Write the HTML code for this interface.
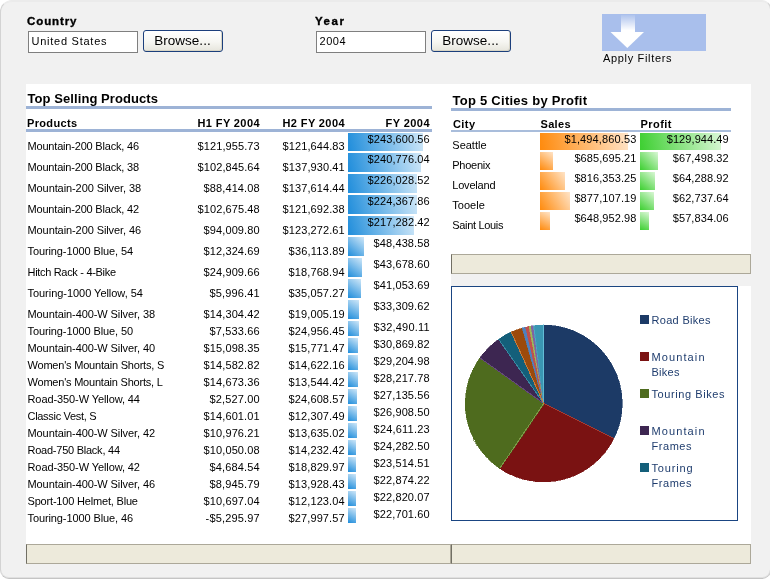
<!DOCTYPE html>
<html><head><meta charset="utf-8"><title>Dashboard</title>
<style>
html,body{margin:0;padding:0;background:#fff;}
body{width:770px;height:579px;position:relative;overflow:hidden;font-family:"Liberation Sans",sans-serif;}
#root{position:absolute;left:0;top:0;width:770px;height:579px;overflow:hidden;will-change:transform;}
.hv{-webkit-text-stroke:0.35px #000;}
.t{position:absolute;white-space:pre;line-height:16px;color:#000;}
</style></head><body><div id="root">
<div style="position:absolute;left:0px;top:0px;width:769px;height:577px;border:1px solid;border-color:#ebebeb #d0d0d0 #c4c4c4 #d3d3d3;border-radius:12px 9px 9px 9px;background:#f1f1f1;box-shadow:inset 0 1px 0 #ebebeb, inset 0 -1px 0 #e0e0e0;"></div>
<span class="t hv" style="top:13.02px;font-size:11.5px;left:27.00px;font-weight:bold;letter-spacing:0.903px;">Country</span>
<span class="t hv" style="top:13.02px;font-size:11.5px;left:315.00px;font-weight:bold;letter-spacing:1.566px;">Year</span>
<div style="position:absolute;left:28px;top:31px;width:108px;height:20px;border:1px solid #7f7f7f;background:#fff;"></div>
<span class="t " style="top:32.79px;font-size:11px;left:31.50px;letter-spacing:0.747px;">United States</span>
<div style="position:absolute;left:316px;top:31px;width:108px;height:20px;border:1px solid #7f7f7f;background:#fff;"></div>
<span class="t " style="top:32.79px;font-size:11px;left:319.50px;letter-spacing:0.510px;">2004</span>
<div style="position:absolute;left:143px;top:30px;width:78px;height:20px;border:1px solid #1c3f7c;border-radius:3px;background:linear-gradient(#ffffff 0%,#f6f6f2 55%,#e6e5dc 100%);box-shadow:inset -1px -1px 0 #d8d5c6;"></div>
<span class="t " style="top:32.72px;font-size:13.5px;left:154.37px;">Browse...</span>
<div style="position:absolute;left:431px;top:30px;width:78px;height:20px;border:1px solid #1c3f7c;border-radius:3px;background:linear-gradient(#ffffff 0%,#f6f6f2 55%,#e6e5dc 100%);box-shadow:inset -1px -1px 0 #d8d5c6;"></div>
<span class="t " style="top:32.72px;font-size:13.5px;left:442.37px;">Browse...</span>
<div style="position:absolute;left:602px;top:14px;width:104px;height:37px;background:#a9bfec;"></div>
<svg style="position:absolute;left:602px;top:14px" width="104" height="37" viewBox="602 14 104 37">
<defs><linearGradient id="ag" x1="0" y1="0" x2="0" y2="1"><stop offset="0" stop-color="#fff" stop-opacity="0.08"/><stop offset="0.88" stop-color="#fff" stop-opacity="1"/></linearGradient></defs>
<rect x="621" y="15" width="14" height="17.5" fill="url(#ag)"/>
<path d="M610.5 32 L644 32 L627.3 48 Z" fill="#fff"/>
</svg>
<span class="t " style="top:50.19px;font-size:11px;left:603.00px;letter-spacing:0.665px;">Apply Filters</span>
<div style="position:absolute;left:26px;top:84px;width:725px;height:460px;background:#fff;"></div>
<span class="t " style="top:90.50px;font-size:13px;left:27.50px;font-weight:bold;letter-spacing:0.077px;">Top Selling Products</span>
<div style="position:absolute;left:26px;top:106px;width:406px;height:3px;background:#9db3d6;"></div>
<span class="t " style="top:115.19px;font-size:11px;left:27.00px;font-weight:bold;letter-spacing:0.332px;">Products</span>
<span class="t " style="top:115.19px;font-size:11px;left:197.50px;font-weight:bold;letter-spacing:0.389px;">H1 FY 2004</span>
<span class="t " style="top:115.19px;font-size:11px;left:282.50px;font-weight:bold;letter-spacing:0.389px;">H2 FY 2004</span>
<span class="t " style="top:115.19px;font-size:11px;left:385.50px;font-weight:bold;letter-spacing:0.436px;">FY 2004</span>
<div style="position:absolute;left:26px;top:129px;width:406px;height:3px;background:#9db3d6;"></div>
<div style="position:absolute;left:348px;top:133px;width:75px;height:18px;background:linear-gradient(76.5deg,#1f8ddb 0%,#cfe7f8 100%);"></div>
<span class="t " style="top:138.19px;font-size:11px;left:27.50px;letter-spacing:-0.189px;">Mountain-200 Black, 46</span>
<span class="t " style="top:138.19px;font-size:11px;left:197.60px;letter-spacing:0.083px;">$121,955.73</span>
<span class="t " style="top:138.19px;font-size:11px;left:282.60px;letter-spacing:0.083px;">$121,644.83</span>
<span class="t " style="top:131.19px;font-size:11px;left:367.60px;letter-spacing:0.083px;">$243,600.56</span>
<div style="position:absolute;left:348px;top:153px;width:73px;height:19px;background:linear-gradient(75.4deg,#1f8ddb 0%,#cfe7f8 100%);"></div>
<span class="t " style="top:159.19px;font-size:11px;left:27.50px;letter-spacing:-0.189px;">Mountain-200 Black, 38</span>
<span class="t " style="top:159.19px;font-size:11px;left:197.60px;letter-spacing:0.083px;">$102,845.64</span>
<span class="t " style="top:159.19px;font-size:11px;left:282.60px;letter-spacing:0.083px;">$137,930.41</span>
<span class="t " style="top:151.19px;font-size:11px;left:367.60px;letter-spacing:0.083px;">$240,776.04</span>
<div style="position:absolute;left:348px;top:174px;width:69px;height:19px;background:linear-gradient(74.6deg,#1f8ddb 0%,#cfe7f8 100%);"></div>
<span class="t " style="top:180.19px;font-size:11px;left:27.50px;letter-spacing:-0.090px;">Mountain-200 Silver, 38</span>
<span class="t " style="top:180.19px;font-size:11px;left:203.60px;letter-spacing:0.105px;">$88,414.08</span>
<span class="t " style="top:180.19px;font-size:11px;left:282.60px;letter-spacing:0.083px;">$137,614.44</span>
<span class="t " style="top:172.19px;font-size:11px;left:367.60px;letter-spacing:0.083px;">$226,028.52</span>
<div style="position:absolute;left:348px;top:195px;width:69px;height:19px;background:linear-gradient(74.6deg,#1f8ddb 0%,#cfe7f8 100%);"></div>
<span class="t " style="top:201.19px;font-size:11px;left:27.50px;letter-spacing:-0.189px;">Mountain-200 Black, 42</span>
<span class="t " style="top:201.19px;font-size:11px;left:197.60px;letter-spacing:0.083px;">$102,675.48</span>
<span class="t " style="top:201.19px;font-size:11px;left:282.60px;letter-spacing:0.083px;">$121,692.38</span>
<span class="t " style="top:193.19px;font-size:11px;left:367.60px;letter-spacing:0.083px;">$224,367.86</span>
<div style="position:absolute;left:348px;top:216px;width:66px;height:19px;background:linear-gradient(73.9deg,#1f8ddb 0%,#cfe7f8 100%);"></div>
<span class="t " style="top:222.19px;font-size:11px;left:27.50px;letter-spacing:-0.090px;">Mountain-200 Silver, 46</span>
<span class="t " style="top:222.19px;font-size:11px;left:203.60px;letter-spacing:0.105px;">$94,009.80</span>
<span class="t " style="top:222.19px;font-size:11px;left:282.60px;letter-spacing:0.083px;">$123,272.61</span>
<span class="t " style="top:214.19px;font-size:11px;left:367.60px;letter-spacing:0.083px;">$217,282.42</span>
<div style="position:absolute;left:348px;top:237px;width:16px;height:19px;background:linear-gradient(40.1deg,#1f8ddb 0%,#cfe7f8 100%);"></div>
<span class="t " style="top:243.19px;font-size:11px;left:27.50px;letter-spacing:-0.102px;">Touring-1000 Blue, 54</span>
<span class="t " style="top:243.19px;font-size:11px;left:203.60px;letter-spacing:0.105px;">$12,324.69</span>
<span class="t " style="top:243.19px;font-size:11px;left:288.60px;letter-spacing:0.196px;">$36,113.89</span>
<span class="t " style="top:235.19px;font-size:11px;left:373.60px;letter-spacing:0.105px;">$48,438.58</span>
<div style="position:absolute;left:348px;top:258px;width:14px;height:19px;background:linear-gradient(36.4deg,#1f8ddb 0%,#cfe7f8 100%);"></div>
<span class="t " style="top:264.19px;font-size:11px;left:27.50px;letter-spacing:-0.313px;">Hitch Rack - 4-Bike</span>
<span class="t " style="top:264.19px;font-size:11px;left:203.60px;letter-spacing:0.105px;">$24,909.66</span>
<span class="t " style="top:264.19px;font-size:11px;left:288.60px;letter-spacing:0.105px;">$18,768.94</span>
<span class="t " style="top:256.19px;font-size:11px;left:373.60px;letter-spacing:0.105px;">$43,678.60</span>
<div style="position:absolute;left:348px;top:279px;width:13px;height:19px;background:linear-gradient(34.4deg,#1f8ddb 0%,#cfe7f8 100%);"></div>
<span class="t " style="top:285.19px;font-size:11px;left:27.50px;letter-spacing:-0.037px;">Touring-1000 Yellow, 54</span>
<span class="t " style="top:285.19px;font-size:11px;left:209.60px;letter-spacing:0.133px;">$5,996.41</span>
<span class="t " style="top:285.19px;font-size:11px;left:288.60px;letter-spacing:0.105px;">$35,057.27</span>
<span class="t " style="top:277.19px;font-size:11px;left:373.60px;letter-spacing:0.105px;">$41,053.69</span>
<div style="position:absolute;left:348px;top:300px;width:11px;height:19px;background:linear-gradient(30.1deg,#1f8ddb 0%,#cfe7f8 100%);"></div>
<span class="t " style="top:306.19px;font-size:11px;left:27.50px;letter-spacing:-0.084px;">Mountain-400-W Silver, 38</span>
<span class="t " style="top:306.19px;font-size:11px;left:203.60px;letter-spacing:0.105px;">$14,304.42</span>
<span class="t " style="top:306.19px;font-size:11px;left:288.60px;letter-spacing:0.105px;">$19,005.19</span>
<span class="t " style="top:298.19px;font-size:11px;left:373.60px;letter-spacing:0.105px;">$33,309.62</span>
<div style="position:absolute;left:348px;top:321px;width:11px;height:15px;background:linear-gradient(36.3deg,#1f8ddb 0%,#cfe7f8 100%);"></div>
<span class="t " style="top:323.19px;font-size:11px;left:27.50px;letter-spacing:-0.102px;">Touring-1000 Blue, 50</span>
<span class="t " style="top:323.19px;font-size:11px;left:209.60px;letter-spacing:0.133px;">$7,533.66</span>
<span class="t " style="top:323.19px;font-size:11px;left:288.60px;letter-spacing:0.105px;">$24,956.45</span>
<span class="t " style="top:319.19px;font-size:11px;left:373.60px;letter-spacing:0.196px;">$32,490.11</span>
<div style="position:absolute;left:348px;top:338px;width:10px;height:15px;background:linear-gradient(33.7deg,#1f8ddb 0%,#cfe7f8 100%);"></div>
<span class="t " style="top:340.19px;font-size:11px;left:27.50px;letter-spacing:-0.084px;">Mountain-400-W Silver, 40</span>
<span class="t " style="top:340.19px;font-size:11px;left:203.60px;letter-spacing:0.105px;">$15,098.35</span>
<span class="t " style="top:340.19px;font-size:11px;left:288.60px;letter-spacing:0.105px;">$15,771.47</span>
<span class="t " style="top:336.19px;font-size:11px;left:373.60px;letter-spacing:0.105px;">$30,869.82</span>
<div style="position:absolute;left:348px;top:355px;width:10px;height:15px;background:linear-gradient(33.7deg,#1f8ddb 0%,#cfe7f8 100%);"></div>
<span class="t " style="top:357.19px;font-size:11px;left:27.50px;letter-spacing:-0.204px;">Women's Mountain Shorts, S</span>
<span class="t " style="top:357.19px;font-size:11px;left:203.60px;letter-spacing:0.105px;">$14,582.82</span>
<span class="t " style="top:357.19px;font-size:11px;left:288.60px;letter-spacing:0.105px;">$14,622.16</span>
<span class="t " style="top:353.19px;font-size:11px;left:373.60px;letter-spacing:0.105px;">$29,204.98</span>
<div style="position:absolute;left:348px;top:372px;width:10px;height:15px;background:linear-gradient(33.7deg,#1f8ddb 0%,#cfe7f8 100%);"></div>
<span class="t " style="top:374.19px;font-size:11px;left:27.50px;letter-spacing:-0.211px;">Women's Mountain Shorts, L</span>
<span class="t " style="top:374.19px;font-size:11px;left:203.60px;letter-spacing:0.105px;">$14,673.36</span>
<span class="t " style="top:374.19px;font-size:11px;left:288.60px;letter-spacing:0.105px;">$13,544.42</span>
<span class="t " style="top:370.19px;font-size:11px;left:373.60px;letter-spacing:0.105px;">$28,217.78</span>
<div style="position:absolute;left:348px;top:389px;width:9px;height:15px;background:linear-gradient(31.0deg,#1f8ddb 0%,#cfe7f8 100%);"></div>
<span class="t " style="top:391.19px;font-size:11px;left:27.50px;letter-spacing:-0.093px;">Road-350-W Yellow, 44</span>
<span class="t " style="top:391.19px;font-size:11px;left:209.60px;letter-spacing:0.133px;">$2,527.00</span>
<span class="t " style="top:391.19px;font-size:11px;left:288.60px;letter-spacing:0.105px;">$24,608.57</span>
<span class="t " style="top:387.19px;font-size:11px;left:373.60px;letter-spacing:0.105px;">$27,135.56</span>
<div style="position:absolute;left:348px;top:406px;width:9px;height:15px;background:linear-gradient(31.0deg,#1f8ddb 0%,#cfe7f8 100%);"></div>
<span class="t " style="top:408.19px;font-size:11px;left:27.50px;letter-spacing:-0.304px;">Classic Vest, S</span>
<span class="t " style="top:408.19px;font-size:11px;left:203.60px;letter-spacing:0.105px;">$14,601.01</span>
<span class="t " style="top:408.19px;font-size:11px;left:288.60px;letter-spacing:0.105px;">$12,307.49</span>
<span class="t " style="top:404.19px;font-size:11px;left:373.60px;letter-spacing:0.105px;">$26,908.50</span>
<div style="position:absolute;left:348px;top:423px;width:9px;height:15px;background:linear-gradient(31.0deg,#1f8ddb 0%,#cfe7f8 100%);"></div>
<span class="t " style="top:425.19px;font-size:11px;left:27.50px;letter-spacing:-0.084px;">Mountain-400-W Silver, 42</span>
<span class="t " style="top:425.19px;font-size:11px;left:203.60px;letter-spacing:0.105px;">$10,976.21</span>
<span class="t " style="top:425.19px;font-size:11px;left:288.60px;letter-spacing:0.105px;">$13,635.02</span>
<span class="t " style="top:421.19px;font-size:11px;left:373.60px;letter-spacing:0.196px;">$24,611.23</span>
<div style="position:absolute;left:348px;top:440px;width:8px;height:15px;background:linear-gradient(28.1deg,#1f8ddb 0%,#cfe7f8 100%);"></div>
<span class="t " style="top:442.19px;font-size:11px;left:27.50px;letter-spacing:-0.242px;">Road-750 Black, 44</span>
<span class="t " style="top:442.19px;font-size:11px;left:203.60px;letter-spacing:0.105px;">$10,050.08</span>
<span class="t " style="top:442.19px;font-size:11px;left:288.60px;letter-spacing:0.105px;">$14,232.42</span>
<span class="t " style="top:438.19px;font-size:11px;left:373.60px;letter-spacing:0.105px;">$24,282.50</span>
<div style="position:absolute;left:348px;top:457px;width:8px;height:15px;background:linear-gradient(28.1deg,#1f8ddb 0%,#cfe7f8 100%);"></div>
<span class="t " style="top:459.19px;font-size:11px;left:27.50px;letter-spacing:-0.093px;">Road-350-W Yellow, 42</span>
<span class="t " style="top:459.19px;font-size:11px;left:209.60px;letter-spacing:0.133px;">$4,684.54</span>
<span class="t " style="top:459.19px;font-size:11px;left:288.60px;letter-spacing:0.105px;">$18,829.97</span>
<span class="t " style="top:455.19px;font-size:11px;left:373.60px;letter-spacing:0.105px;">$23,514.51</span>
<div style="position:absolute;left:348px;top:474px;width:8px;height:15px;background:linear-gradient(28.1deg,#1f8ddb 0%,#cfe7f8 100%);"></div>
<span class="t " style="top:476.19px;font-size:11px;left:27.50px;letter-spacing:-0.084px;">Mountain-400-W Silver, 46</span>
<span class="t " style="top:476.19px;font-size:11px;left:209.60px;letter-spacing:0.133px;">$8,945.79</span>
<span class="t " style="top:476.19px;font-size:11px;left:288.60px;letter-spacing:0.105px;">$13,928.43</span>
<span class="t " style="top:472.19px;font-size:11px;left:373.60px;letter-spacing:0.105px;">$22,874.22</span>
<div style="position:absolute;left:348px;top:491px;width:8px;height:15px;background:linear-gradient(28.1deg,#1f8ddb 0%,#cfe7f8 100%);"></div>
<span class="t " style="top:493.19px;font-size:11px;left:27.50px;letter-spacing:-0.183px;">Sport-100 Helmet, Blue</span>
<span class="t " style="top:493.19px;font-size:11px;left:203.60px;letter-spacing:0.105px;">$10,697.04</span>
<span class="t " style="top:493.19px;font-size:11px;left:288.60px;letter-spacing:0.105px;">$12,123.04</span>
<span class="t " style="top:489.19px;font-size:11px;left:373.60px;letter-spacing:0.105px;">$22,820.07</span>
<div style="position:absolute;left:348px;top:508px;width:8px;height:15px;background:linear-gradient(28.1deg,#1f8ddb 0%,#cfe7f8 100%);"></div>
<span class="t " style="top:510.19px;font-size:11px;left:27.50px;letter-spacing:-0.102px;">Touring-1000 Blue, 46</span>
<span class="t " style="top:510.19px;font-size:11px;left:205.60px;letter-spacing:0.156px;">-$5,295.97</span>
<span class="t " style="top:510.19px;font-size:11px;left:288.60px;letter-spacing:0.105px;">$27,997.57</span>
<span class="t " style="top:506.19px;font-size:11px;left:373.60px;letter-spacing:0.105px;">$22,701.60</span>
<span class="t " style="top:92.50px;font-size:13px;left:452.50px;font-weight:bold;letter-spacing:0.260px;">Top 5 Cities by Profit</span>
<div style="position:absolute;left:451px;top:108px;width:280px;height:3px;background:#9db3d6;"></div>
<span class="t " style="top:116.19px;font-size:11px;left:453.00px;font-weight:bold;letter-spacing:0.406px;">City</span>
<span class="t " style="top:116.19px;font-size:11px;left:540.50px;font-weight:bold;letter-spacing:0.313px;">Sales</span>
<span class="t " style="top:116.19px;font-size:11px;left:640.50px;font-weight:bold;letter-spacing:0.456px;">Profit</span>
<div style="position:absolute;left:451px;top:130px;width:280px;height:2px;background:#a9bddb;"></div>
<div style="position:absolute;left:540px;top:133px;width:88px;height:17px;background:linear-gradient(79.1deg,#ff8a0c 0%,#ffe4c8 100%);"></div>
<div style="position:absolute;left:640px;top:133px;width:81px;height:17px;background:linear-gradient(78.1deg,#3ccf30 0%,#daf7d6 100%);"></div>
<span class="t " style="top:137.19px;font-size:11px;left:452.30px;letter-spacing:-0.008px;">Seattle</span>
<span class="t " style="top:131.19px;font-size:11px;left:564.40px;letter-spacing:0.138px;">$1,494,860.53</span>
<span class="t " style="top:131.19px;font-size:11px;left:666.70px;letter-spacing:0.083px;">$129,944.49</span>
<div style="position:absolute;left:540px;top:152px;width:13px;height:18px;background:linear-gradient(35.8deg,#ff8a0c 0%,#ffe4c8 100%);"></div>
<div style="position:absolute;left:640px;top:152px;width:18px;height:18px;background:linear-gradient(45.0deg,#3ccf30 0%,#daf7d6 100%);"></div>
<span class="t " style="top:157.19px;font-size:11px;left:452.30px;letter-spacing:-0.259px;">Phoenix</span>
<span class="t " style="top:150.19px;font-size:11px;left:574.40px;letter-spacing:0.083px;">$685,695.21</span>
<span class="t " style="top:150.19px;font-size:11px;left:672.70px;letter-spacing:0.105px;">$67,498.32</span>
<div style="position:absolute;left:540px;top:172px;width:25px;height:18px;background:linear-gradient(54.2deg,#ff8a0c 0%,#ffe4c8 100%);"></div>
<div style="position:absolute;left:640px;top:172px;width:15px;height:18px;background:linear-gradient(39.8deg,#3ccf30 0%,#daf7d6 100%);"></div>
<span class="t " style="top:177.19px;font-size:11px;left:452.30px;letter-spacing:-0.207px;">Loveland</span>
<span class="t " style="top:170.19px;font-size:11px;left:574.40px;letter-spacing:0.083px;">$816,353.25</span>
<span class="t " style="top:170.19px;font-size:11px;left:672.70px;letter-spacing:0.105px;">$64,288.92</span>
<div style="position:absolute;left:540px;top:192px;width:30px;height:18px;background:linear-gradient(59.0deg,#ff8a0c 0%,#ffe4c8 100%);"></div>
<div style="position:absolute;left:640px;top:192px;width:14px;height:18px;background:linear-gradient(37.9deg,#3ccf30 0%,#daf7d6 100%);"></div>
<span class="t " style="top:197.19px;font-size:11px;left:452.30px;letter-spacing:0.017px;">Tooele</span>
<span class="t " style="top:190.19px;font-size:11px;left:574.40px;letter-spacing:0.083px;">$877,107.19</span>
<span class="t " style="top:190.19px;font-size:11px;left:672.70px;letter-spacing:0.105px;">$62,737.64</span>
<div style="position:absolute;left:540px;top:212px;width:10px;height:18px;background:linear-gradient(29.1deg,#ff8a0c 0%,#ffe4c8 100%);"></div>
<div style="position:absolute;left:640px;top:212px;width:9px;height:18px;background:linear-gradient(26.6deg,#3ccf30 0%,#daf7d6 100%);"></div>
<span class="t " style="top:217.19px;font-size:11px;left:452.30px;letter-spacing:-0.333px;">Saint Louis</span>
<span class="t " style="top:210.19px;font-size:11px;left:574.40px;letter-spacing:0.083px;">$648,952.98</span>
<span class="t " style="top:210.19px;font-size:11px;left:672.70px;letter-spacing:0.105px;">$57,834.06</span>
<div style="position:absolute;left:451px;top:254px;width:298px;height:18px;background:#edeadb;border:1px solid;border-color:#aca899 #aca899 #aca899 #716f64;"></div>
<div style="position:absolute;left:451px;top:274px;width:300px;height:12px;background:#f1f1f1;"></div>
<div style="position:absolute;left:26px;top:544px;width:423px;height:18px;background:#edeadb;border:1px solid;border-color:#aca899 #aca899 #aca899 #716f64;"></div>
<div style="position:absolute;left:451px;top:544px;width:298px;height:18px;background:#edeadb;border:1px solid;border-color:#aca899 #aca899 #aca899 #716f64;"></div>
<div style="position:absolute;left:26px;top:564px;width:725px;height:3px;background:#f1f1f1;"></div>
<div style="position:absolute;left:451px;top:286px;width:285px;height:233px;border:1px solid #1a4582;background:#fff;"></div>
<svg style="position:absolute;left:452px;top:287px" width="285" height="233" viewBox="452 287 285 233" shape-rendering="crispEdges"><path d="M543.7 403.5 L543.70 325.00 A78.5 78.5 0 0 1 614.01 438.40 Z" fill="#1c3a66" stroke="#1c3a66" stroke-width="0.6"/><path d="M543.7 403.5 L614.01 438.40 A78.5 78.5 0 0 1 499.69 468.50 Z" fill="#7a1212" stroke="#7a1212" stroke-width="0.6"/><path d="M543.7 403.5 L499.69 468.50 A78.5 78.5 0 0 1 479.87 357.80 Z" fill="#4e6b1e" stroke="#4e6b1e" stroke-width="0.6"/><path d="M543.7 403.5 L479.87 357.80 A78.5 78.5 0 0 1 498.56 339.28 Z" fill="#3d2651" stroke="#3d2651" stroke-width="0.6"/><path d="M543.7 403.5 L498.56 339.28 A78.5 78.5 0 0 1 511.15 332.07 Z" fill="#145f7a" stroke="#145f7a" stroke-width="0.6"/><path d="M543.7 403.5 L511.15 332.07 A78.5 78.5 0 0 1 522.19 328.00 Z" fill="#9c4a0c" stroke="#9c4a0c" stroke-width="0.6"/><path d="M543.7 403.5 L522.19 328.00 A78.5 78.5 0 0 1 525.51 327.14 Z" fill="#4f81bd" stroke="#4f81bd" stroke-width="0.6"/><path d="M543.7 403.5 L525.51 327.14 A78.5 78.5 0 0 1 528.99 326.39 Z" fill="#c0504d" stroke="#c0504d" stroke-width="0.6"/><path d="M543.7 403.5 L528.99 326.39 A78.5 78.5 0 0 1 531.01 326.03 Z" fill="#9bbb59" stroke="#9bbb59" stroke-width="0.6"/><path d="M543.7 403.5 L531.01 326.03 A78.5 78.5 0 0 1 533.45 325.67 Z" fill="#8064a2" stroke="#8064a2" stroke-width="0.6"/><path d="M543.7 403.5 L533.45 325.67 A78.5 78.5 0 0 1 534.54 325.54 Z" fill="#4bacc6" stroke="#4bacc6" stroke-width="0.6"/><path d="M543.7 403.5 L534.54 325.54 A78.5 78.5 0 0 1 543.01 325.00 Z" fill="#3a96b2" stroke="#3a96b2" stroke-width="0.6"/><path d="M543.7 403.5 L543.01 325.00 A78.5 78.5 0 0 1 543.70 325.00 Z" fill="#62bcd6" stroke="#62bcd6" stroke-width="0.6"/><line x1="543.7" y1="403.5" x2="614.01" y2="438.40" stroke="#a43c34" stroke-width="1"/><line x1="543.7" y1="403.5" x2="499.69" y2="468.50" stroke="#7b9a46" stroke-width="1"/><line x1="543.7" y1="403.5" x2="479.87" y2="357.80" stroke="#65497c" stroke-width="1"/><line x1="543.7" y1="403.5" x2="498.56" y2="339.28" stroke="#3b88a2" stroke-width="1"/><line x1="543.7" y1="403.5" x2="511.15" y2="332.07" stroke="#c67c3c" stroke-width="1"/></svg>
<div style="position:absolute;left:640px;top:315px;width:9px;height:9px;background:#1c3a66;"></div>
<span class="t " style="top:312.19px;font-size:11px;left:651.50px;letter-spacing:0.305px;color:#1f3d6e;">Road Bikes</span>
<div style="position:absolute;left:640px;top:352px;width:9px;height:9px;background:#7a1212;"></div>
<span class="t " style="top:349.19px;font-size:11px;left:651.50px;letter-spacing:1.107px;color:#1f3d6e;">Mountain</span>
<span class="t " style="top:364.19px;font-size:11px;left:651.50px;letter-spacing:0.275px;color:#1f3d6e;">Bikes</span>
<div style="position:absolute;left:640px;top:389px;width:9px;height:9px;background:#4e6b1e;"></div>
<span class="t " style="top:386.19px;font-size:11px;left:651.50px;letter-spacing:0.581px;color:#1f3d6e;">Touring Bikes</span>
<div style="position:absolute;left:640px;top:426px;width:9px;height:9px;background:#3d2651;"></div>
<span class="t " style="top:423.19px;font-size:11px;left:651.50px;letter-spacing:1.107px;color:#1f3d6e;">Mountain</span>
<span class="t " style="top:438.19px;font-size:11px;left:651.50px;letter-spacing:0.544px;color:#1f3d6e;">Frames</span>
<div style="position:absolute;left:640px;top:463px;width:9px;height:9px;background:#145f7a;"></div>
<span class="t " style="top:460.19px;font-size:11px;left:651.50px;letter-spacing:0.820px;color:#1f3d6e;">Touring</span>
<span class="t " style="top:475.19px;font-size:11px;left:651.50px;letter-spacing:0.544px;color:#1f3d6e;">Frames</span>
</div></body></html>
